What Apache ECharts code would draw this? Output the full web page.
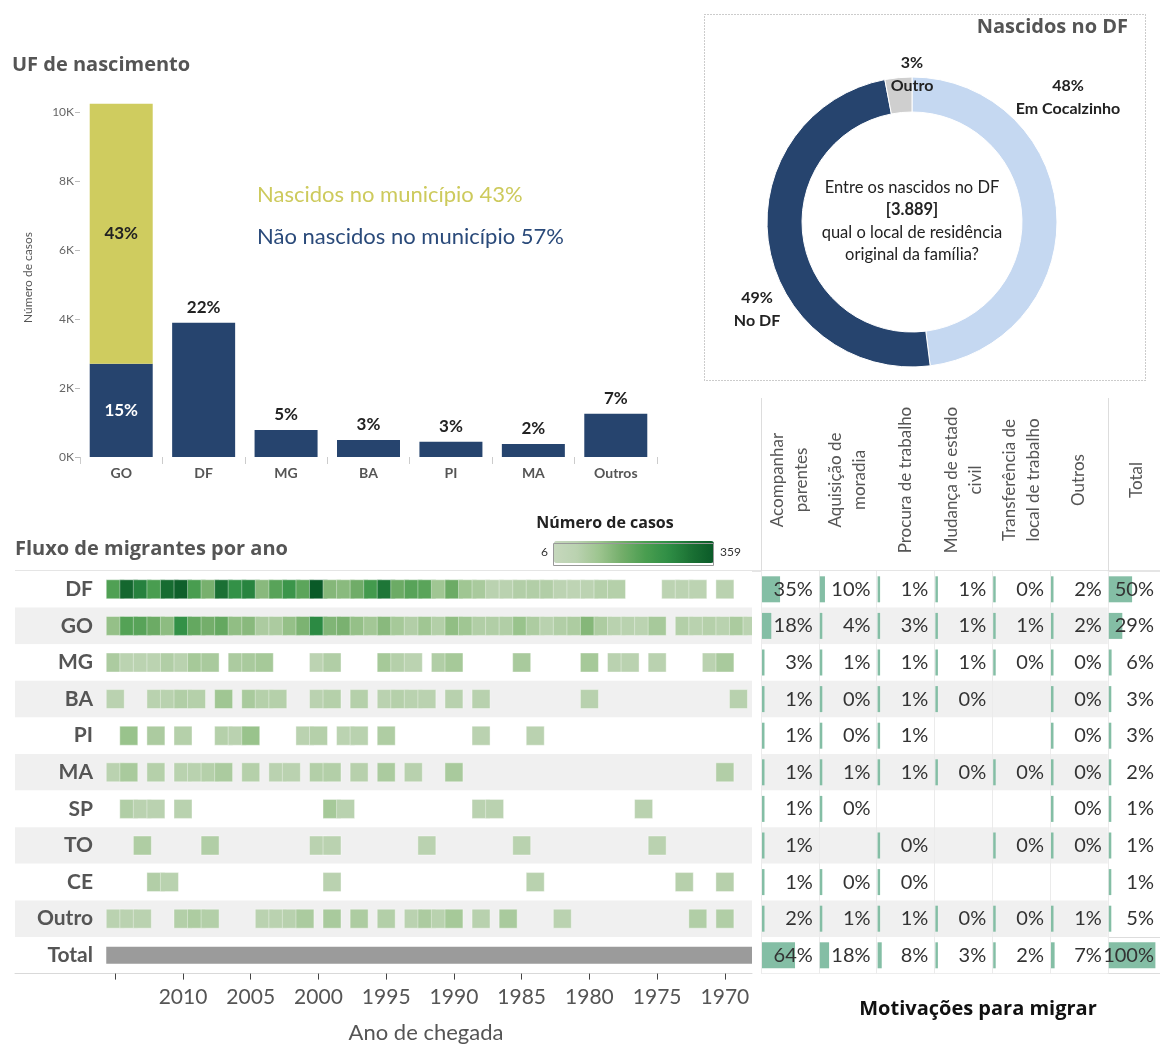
<!DOCTYPE html>
<html>
<head>
<meta charset="utf-8">
<title>Migração - Cocalzinho</title>
<script src="https://cdn.jsdelivr.net/npm/echarts@6/dist/echarts.min.js"></script>
<style>
  html, body { margin: 0; padding: 0; background: #fff; }
  #main { width: 1160px; height: 1045px; }
</style>
</head>
<body>
<div id="main"></div>
<script>
const _ = null;

// UF de nascimento
const ufCategorias = ['GO', 'DF', 'MG', 'BA', 'PI', 'MA', 'Outros'];
const naoNascidos = [2700, 3889, 780, 490, 445, 380, 1250];
const nascidosMunicipio = [7530, _, _, _, _, _, _];
const naoNascidosPct = ['15%', '22%', '5%', '3%', '3%', '2%', '7%'];
const nascidosPct = ['43%', '', '', '', '', '', ''];

// Nascidos no DF
const origemNomes = ['Em Cocalzinho', 'No DF', 'Outro'];
const origemPct = [48, 49, 3];
const origemCores = ['#c5d8f1', '#26446e', '#cfcfcf'];

// Fluxo de migrantes por ano
const anos = [2015, 2014, 2013, 2012, 2011, 2010, 2009, 2008, 2007, 2006,
  2005, 2004, 2003, 2002, 2001, 2000, 1999, 1998, 1997, 1996,
  1995, 1994, 1993, 1992, 1991, 1990, 1989, 1988, 1987, 1986,
  1985, 1984, 1983, 1982, 1981, 1980, 1979, 1978, 1977, 1976,
  1975, 1974, 1973, 1972, 1971, 1970, 1969, 1968];
const anosTicks = [2015, 2010, 2005, 2000, 1995, 1990, 1985, 1980, 1975, 1970];
const anosRotulos = [2010, 2005, 2000, 1995, 1990, 1985, 1980, 1975, 1970];
const ufLinhas = ['DF', 'GO', 'MG', 'BA', 'PI', 'MA', 'SP', 'TO', 'CE', 'Outro', 'Total'];

const fluxoDF = [200, 330, 280, 210, 320, 345, 210, 150, 310, 250,
  275, 130, 190, 235, 185, 359, 135, 128, 160, 220,
  300, 165, 190, 188, 100, 165, 100, 85, 55, 55,
  70, 70, 70, 50, 40, 50, 65, 65, _, _,
  _, 50, 50, 50, _, 55, _, _];
const fluxoGO = [115, 195, 190, 165, 125, 250, 175, 155, 175, 120,
  130, 80, 80, 115, 145, 265, 140, 148, 115, 95,
  130, 90, 70, 100, 68, 120, 100, 72, 72, 72,
  110, 78, 58, 72, 78, 135, 78, 58, 58, 52,
  88, _, 68, 58, 65, 58, 82, 52];
const fluxoMG = [80, 52, 52, 52, 72, 58, 90, 85, _, 80,
  85, 90, _, _, _, 48, 72, _, _, _,
  90, 65, 52, _, 72, 90, _, _, _, _,
  85, _, _, _, _, 90, _, 55, 55, _,
  55, _, _, _, 55, 85, _, _];
const fluxoBA = [55, _, _, 58, 58, 72, 65, _, 100, _,
  85, 65, 65, _, _, 55, 65, _, 65, _,
  55, 65, 58, 55, _, 60, _, 60, _, _,
  _, _, _, _, _, 60, _, _, _, _,
  _, _, _, _, _, _, 60, _];
const fluxoPI = [_, 110, _, 80, _, 65, _, _, 65, 55,
  110, _, _, _, 55, 65, _, 52, 58, _,
  75, _, _, _, _, _, _, 55, _, _,
  _, 55, _, _, _, _, _, _, _, _,
  _, _, _, _, _, _, _, _];
const fluxoMA = [55, 85, _, 65, _, 58, 58, 65, 82, _,
  65, _, 55, 55, _, 68, 68, _, 62, _,
  82, _, 60, _, _, 85, _, _, _, _,
  _, _, _, _, _, _, _, _, _, _,
  _, _, _, _, _, 70, _, _];
const fluxoSP = [_, 72, 55, 55, _, 58, _, _, _, _,
  _, _, _, _, _, _, 90, 58, _, _,
  _, _, _, _, _, _, _, 55, 55, _,
  _, _, _, _, _, _, _, _, _, 55,
  _, _, _, _, _, _, _, _];
const fluxoTO = [_, _, 75, _, _, _, _, 72, _, _,
  _, _, _, _, _, 55, 55, _, _, _,
  _, _, _, 55, _, _, _, _, _, _,
  58, _, _, _, _, _, _, _, _, _,
  55, _, _, _, _, _, _, _];
const fluxoCE = [_, _, _, 70, 58, _, _, _, _, _,
  _, _, _, _, _, _, 55, _, _, _,
  _, _, _, _, _, _, _, _, _, _,
  _, 58, _, _, _, _, _, _, _, _,
  _, _, 62, _, _, 62, _, _];
const fluxoOutro = [55, 55, 55, _, _, 68, 78, 68, _, _,
  _, 55, 55, 60, 82, _, 85, _, 78, _,
  68, _, 55, 80, 58, 90, _, 60, _, 85,
  _, _, _, 55, _, _, _, _, _, _,
  _, _, _, 72, _, 72, _, _];
const fluxoLinhas = [fluxoDF, fluxoGO, fluxoMG, fluxoBA, fluxoPI, fluxoMA,
  fluxoSP, fluxoTO, fluxoCE, fluxoOutro];
const fluxoCores = ['#c6d8bd', '#bad2b0', '#9cc48e', '#72ad69', '#4a9e50', '#2f8e45', '#1b7134', '#0a5a28'];

// Motivações para migrar (% por UF)
const motivosTitulos = ['Acompanhar\nparentes', 'Aquisição de\nmoradia', 'Procura de trabalho',
  'Mudança de estado\ncivil', 'Transferência de\nlocal de trabalho', 'Outros', 'Total'];
const acompanharParentes = [35, 18, 3, 1, 1, 1, 1, 1, 1, 2, 64];
const aquisicaoMoradia = [10, 4, 1, 0, 0, 1, 0, _, 0, 1, 18];
const procuraTrabalho = [1, 3, 1, 1, 1, 1, _, 0, 0, 1, 8];
const mudancaEstadoCivil = [1, 1, 1, 0, _, 0, _, _, _, 0, 3];
const transferenciaTrabalho = [0, 1, 0, _, _, 0, _, 0, _, 0, 2];
const outrosMotivos = [2, 2, 0, 0, 0, 0, 0, 0, _, 1, 7];
const totalMotivos = [50, 29, 6, 3, 3, 2, 1, 1, 1, 5, 100];
const motivosColunas = [acompanharParentes, aquisicaoMoradia, procuraTrabalho,
  mudancaEstadoCivil, transferenciaTrabalho, outrosMotivos];

const FONT = 'Lato, "Noto Sans", sans-serif';
const TITLE_FONT = '"Open Sans", "Noto Sans", sans-serif';
const MARK_W = 18, MARK_H = 19;
const COL_MAX = 112, COL_W = 57.8, BAR_H = 26;

const fluxoData = [];
fluxoLinhas.forEach((linha, i) => {
  linha.forEach((v, k) => {
    if (v != null) fluxoData.push([anos[k], ufLinhas[i], v]);
  });
});

const motivosData = [];
motivosColunas.forEach((col, c) => {
  col.forEach((v, r) => {
    if (v != null) motivosData.push([c, ufLinhas[r], v]);
  });
});
const totalData = totalMotivos.map((v, r) => [0, ufLinhas[r], v]);

function renderFluxo(params, api) {
  const p = api.coord([api.value(0), api.value(1)]);
  return {
    type: 'rect',
    shape: { x: p[0] - MARK_W / 2, y: p[1] - MARK_H / 2, width: MARK_W, height: MARK_H },
    style: { fill: api.visual('color'), stroke: 'rgba(255,255,255,0.4)', lineWidth: 1 }
  };
}

function renderTotalFluxo(params, api) {
  const a = api.coord([anos[0], 'Total']);
  const b = api.coord([anos[anos.length - 1], 'Total']);
  return {
    type: 'rect',
    shape: { x: a[0] - MARK_W / 2, y: a[1] - 8.5, width: b[0] - a[0] + MARK_W, height: 17 },
    style: { fill: '#9b9b9b' }
  };
}

function renderMotivo(params, api) {
  const c = api.value(0), r = api.value(1), v = api.value(2);
  const a = api.coord([c * COL_MAX, r]);
  const b = api.coord([c * COL_MAX + v, r]);
  const e = api.coord([(c + 1) * COL_MAX, r]);
  return {
    type: 'group',
    children: [
      {
        type: 'rect',
        shape: { x: a[0] + 1, y: a[1] - BAR_H / 2, width: Math.max(b[0] - a[0], 2.5), height: BAR_H },
        style: { fill: '#84bea5' }
      },
      {
        type: 'text',
        x: e[0] - 6,
        y: a[1],
        style: { text: v + '%', align: 'right', verticalAlign: 'middle', fontSize: 20, fontFamily: FONT, fill: '#333' }
      }
    ]
  };
}

const donutLabelPos = [[1068, 97], [757, 309], [912, 74]];

const headerTexts = motivosTitulos.map((t, c) => ({
  type: 'text',
  x: 761 + COL_W * (c + 0.5),
  y: 480,
  rotation: Math.PI / 2,
  style: { text: t, align: 'center', verticalAlign: 'middle', fontSize: 17, lineHeight: 24, fontFamily: FONT, fill: '#555' }
}));

function txt(x, y, text, opts) {
  return {
    type: 'text', x: x, y: y,
    style: Object.assign({ text: text, verticalAlign: 'middle', fontFamily: FONT, fill: '#555' }, opts)
  };
}
function line(x1, y1, x2, y2, color, w) {
  return { type: 'line', shape: { x1: x1, y1: y1, x2: x2, y2: y2 }, style: { stroke: color, lineWidth: w || 1 } };
}

const chart = echarts.init(document.getElementById('main'));
const option = {
  animation: false,
  textStyle: { fontFamily: FONT },
  grid: [
    { left: 80, top: 98, width: 577, height: 359 },
    { left: 15, top: 571, width: 737, height: 402.6 },
    { left: 761, top: 571, width: COL_W * 6, height: 402.6 },
    { left: 761 + COL_W * 6, top: 571, width: COL_W, height: 402.6 }
  ],
  xAxis: [
    {
      gridIndex: 0, type: 'category', data: ufCategorias,
      axisLine: { show: false },
      axisTick: { show: true, length: 7, lineStyle: { color: '#ccc' } },
      axisLabel: { fontSize: 14, fontWeight: 'bold', color: '#555', margin: 9 }
    },
    {
      gridIndex: 1, type: 'value', inverse: true, min: 1968, max: 2022.4,
      axisLine: { show: true, lineStyle: { color: '#d9d9d9' } },
      axisTick: { show: true, length: 6, lineStyle: { color: '#444' }, customValues: anosTicks },
      axisLabel: { fontSize: 21, color: '#555', margin: 13, customValues: anosRotulos, formatter: v => String(v) },
      splitLine: { show: false }
    },
    {
      gridIndex: 2, type: 'value', min: 0, max: COL_MAX * 6, interval: COL_MAX,
      axisLine: { show: false }, axisTick: { show: false }, axisLabel: { show: false },
      splitLine: { show: true, lineStyle: { color: '#ebebeb' } }
    },
    {
      gridIndex: 3, type: 'value', min: 0, max: COL_MAX,
      axisLine: { show: false }, axisTick: { show: false }, axisLabel: { show: false },
      splitLine: { show: false }
    }
  ],
  yAxis: [
    {
      gridIndex: 0, type: 'value', min: 0, max: 10400, interval: 2000,
      name: 'Número de casos', nameLocation: 'middle', nameGap: 46,
      nameTextStyle: { fontSize: 12, color: '#555' },
      axisLine: { show: false },
      axisTick: { show: true, length: 5, lineStyle: { color: '#bbb' } },
      axisLabel: { fontSize: 12, color: '#666', margin: 6, showMaxLabel: false,
        formatter: v => (v % 2000 === 0 ? v / 1000 + 'K' : '') },
      splitLine: { show: false }
    },
    {
      gridIndex: 1, type: 'category', data: ufLinhas, inverse: true,
      axisLine: { show: false }, axisTick: { show: false },
      axisLabel: { inside: true, margin: 78, align: 'right', fontSize: 21, fontWeight: 'bold', color: '#555' },
      splitArea: { show: true, areaStyle: { color: ['#ffffff', '#f0f0f0'] } }
    },
    {
      gridIndex: 2, type: 'category', data: ufLinhas, inverse: true,
      axisLine: { show: false }, axisTick: { show: false }, axisLabel: { show: false },
      splitArea: { show: true, areaStyle: { color: ['#ffffff', '#f0f0f0'] } }
    },
    {
      gridIndex: 3, type: 'category', data: ufLinhas, inverse: true,
      axisLine: { show: false }, axisTick: { show: false }, axisLabel: { show: false }
    }
  ],
  visualMap: {
    type: 'continuous', seriesIndex: 3, dimension: 2, min: 6, max: 359,
    orient: 'horizontal', left: 526, top: 526, itemWidth: 22, itemHeight: 160,
    text: ['359', '6'], textGap: 6, calculable: false, hoverLink: false,
    textStyle: { fontSize: 12, color: '#333' },
    inRange: { color: fluxoCores }
  },
  series: [
    {
      name: 'Não nascidos no município', type: 'bar', stack: 'uf', barWidth: 63,
      xAxisIndex: 0, yAxisIndex: 0,
      itemStyle: { color: '#26446e' },
      data: naoNascidos.map((v, i) => i === 0
        ? { value: v, label: { position: 'inside', color: '#fff' } }
        : v),
      label: {
        show: true, position: 'top', distance: 7, fontSize: 17, fontWeight: 'bold', color: '#222',
        formatter: p => naoNascidosPct[p.dataIndex]
      }
    },
    {
      name: 'Nascidos no município', type: 'bar', stack: 'uf', barWidth: 63,
      xAxisIndex: 0, yAxisIndex: 0,
      itemStyle: { color: '#cfcc5f' },
      data: nascidosMunicipio,
      label: {
        show: true, position: 'inside', fontSize: 17, fontWeight: 'bold', color: '#222',
        formatter: p => nascidosPct[p.dataIndex]
      }
    },
    {
      name: 'Nascidos no DF', type: 'pie', center: [912, 222], radius: [110, 145],
      startAngle: 90, clockwise: true, silent: true,
      itemStyle: { borderColor: '#fff', borderWidth: 1 },
      label: {
        show: true, position: 'outside', formatter: '{c}%\n{b}', overflow: 'none', width: 200,
        fontSize: 16, fontWeight: 'bold', color: '#222', lineHeight: 23, align: 'center'
      },
      labelLine: { show: false },
      labelLayout: p => ({ x: donutLabelPos[p.dataIndex][0], y: donutLabelPos[p.dataIndex][1], align: 'center', verticalAlign: 'middle' }),
      data: origemNomes.map((n, i) => ({ name: n, value: origemPct[i], itemStyle: { color: origemCores[i] } }))
    },
    {
      name: 'Fluxo', type: 'custom', xAxisIndex: 1, yAxisIndex: 1, clip: true,
      dimensions: ['ano', 'uf', 'casos'], encode: { x: 0, y: 1 },
      renderItem: renderFluxo, data: fluxoData
    },
    {
      name: 'Total fluxo', type: 'custom', xAxisIndex: 1, yAxisIndex: 1, clip: true,
      renderItem: renderTotalFluxo, encode: { x: 0, y: 1 },
      data: [[anos[0], 'Total']]
    },
    {
      name: 'Motivações', type: 'custom', xAxisIndex: 2, yAxisIndex: 2,
      encode: { x: 0, y: 1 }, renderItem: renderMotivo, data: motivosData
    },
    {
      name: 'Total motivações', type: 'custom', xAxisIndex: 3, yAxisIndex: 3,
      encode: { x: 0, y: 1 }, renderItem: renderMotivo, data: totalData
    }
  ],
  graphic: [
    txt(12, 65, 'UF de nascimento', { fontFamily: TITLE_FONT, fontSize: 20, fontWeight: 'bold' }),
    txt(257, 195, 'Nascidos no município 43%', { fontSize: 22, fill: '#cdca5c' }),
    txt(257, 237, 'Não nascidos no município 57%', { fontSize: 22, fill: '#2a4a7a' }),
    {
      type: 'rect', shape: { x: 704.5, y: 14.5, width: 441, height: 366 },
      style: { fill: 'none', stroke: '#999', lineWidth: 1, lineDash: [1, 2] }
    },
    txt(1128, 27, 'Nascidos no DF', { align: 'right', fontFamily: TITLE_FONT, fontSize: 20, fontWeight: 'bold' }),
    {
      type: 'text', x: 912, y: 221,
      style: {
        text: '{n|Entre os nascidos no DF}\n{b|[' + naoNascidos[1].toLocaleString('pt-BR') + ']}\n{n|qual o local de residência}\n{n|original da família?}',
        align: 'center', verticalAlign: 'middle', fontFamily: FONT,
        rich: {
          n: { fontSize: 16.5, lineHeight: 22.5, fill: '#222', fontFamily: FONT },
          b: { fontSize: 16.5, lineHeight: 22.5, fill: '#222', fontWeight: 'bold', fontFamily: FONT }
        }
      }
    },
    txt(15, 549, 'Fluxo de migrantes por ano', { fontFamily: TITLE_FONT, fontSize: 20, fontWeight: 'bold' }),
    txt(605, 523, 'Número de casos', { align: 'center', fontFamily: TITLE_FONT, fontSize: 16, fontWeight: 'bold', fill: '#222' }),
    {
      type: 'rect', shape: { x: 553.5, y: 543.5, width: 160, height: 22 },
      style: { fill: 'none', stroke: '#999', lineWidth: 1 }, z: 100
    },
    txt(426, 1033, 'Ano de chegada', { align: 'center', fontSize: 22 }),
    line(15, 571, 1160, 571, '#dddddd', 1.5),
    line(761.5, 398, 761.5, 973, '#dddddd'),
    line(1108.5, 398, 1108.5, 973, '#dddddd'),
    line(761, 937.5, 1160, 937.5, '#dddddd'),
    line(761, 973.5, 1160, 973.5, '#dddddd'),
    ...headerTexts,
    txt(978, 1009, 'Motivações para migrar', { align: 'center', fontFamily: TITLE_FONT, fontSize: 20, fontWeight: 'bold', fill: '#111' })
  ]
};
chart.setOption(option);
</script>
</body>
</html>
